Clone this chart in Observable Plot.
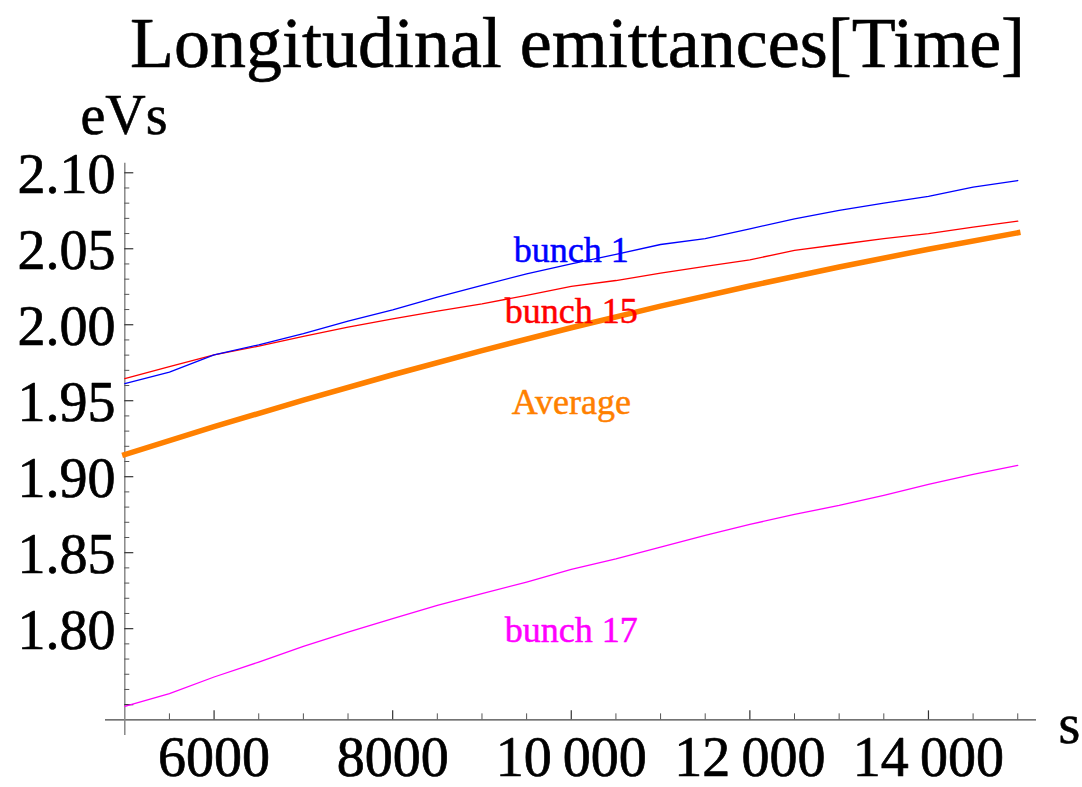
<!DOCTYPE html>
<html>
<head>
<meta charset="utf-8">
<script src="https://cdn.jsdelivr.net/npm/d3@7"></script>
<script src="https://cdn.jsdelivr.net/npm/@observablehq/plot@0.6"></script>
<style>
  html, body { margin: 0; padding: 0; background: #fff; }
  #chart { width: 1082px; height: 787px; }
</style>
</head>
<body>
<div id="chart"></div>
<script>
// ---- data ----
const times = [5000, 5500, 6000, 6500, 7000, 7500, 8000, 8500, 9000, 9500, 10000,
               10500, 11000, 11500, 12000, 12500, 13000, 13500, 14000, 14500, 15000];
const bunch1 = [1.9612, 1.9688, 1.9802, 1.9868, 1.9941, 2.0024, 2.0098, 2.0182, 2.0259, 2.0335, 2.0401,
                2.0463, 2.0528, 2.0566, 2.0631, 2.0697, 2.0752, 2.0800, 2.0844, 2.0905, 2.0949];
const bunch15 = [1.9645, 1.9724, 1.9802, 1.9859, 1.9923, 1.9984, 2.0039, 2.0090, 2.0138, 2.0193, 2.0252,
                 2.0291, 2.0340, 2.0384, 2.0427, 2.0489, 2.0528, 2.0566, 2.0599, 2.0642, 2.0682];
const bunch17 = [1.7489, 1.7572, 1.7682, 1.7780, 1.7884, 1.7978, 1.8066, 1.8153, 1.8230, 1.8307, 1.8390,
                 1.8460, 1.8537, 1.8614, 1.8686, 1.8752, 1.8811, 1.8877, 1.8949, 1.9015, 1.9074];
const avgTimes = [5000, 6000, 7000, 8000, 9000, 10000, 11000, 12000, 13000, 14000, 15000];
const average = [1.9145, 1.9329, 1.9504, 1.9671, 1.9830, 1.9980, 2.0122, 2.0255, 2.0380, 2.0497, 2.0605];

const labelNames = ["bunch 1", "bunch 15", "Average", "bunch 17"];
const labelColors = ["#0000ff", "#ff0000", "#ff8000", "#ff00ff"];
const labelY = [2.05, 2.01, 1.95, 1.80];
const labelX = 10000;

const yMajor = [1.75, 1.80, 1.85, 1.90, 1.95, 2.00, 2.05, 2.10];
const yTickLabels = ["", "1.80", "1.85", "1.90", "1.95", "2.00", "2.05", "2.10"];
const xMajor = [6000, 8000, 10000, 12000, 14000];
const xTickLabels = ["6000", "8000", "10\u2009000", "12\u2009000", "14\u2009000"];

const titleText = "Longitudinal emittances[Time]";
const yAxisLabel = "eVs";
const xAxisLabel = "s";

// ---- derived tables ----
const yMinor = d3.range(175, 211).map(v => v / 100).filter(v => !yMajor.some(m => Math.abs(m - v) < 1e-9));
const xMinor = d3.range(5500, 15001, 500).filter(v => !xMajor.includes(v));
const toRows = (xs, ys) => xs.map((t, i) => ({t, v: ys[i]}));
const labels = labelNames.map((name, i) => ({name, y: labelY[i], color: labelColors[i]}));
const yTicks = yMajor.map((y, i) => ({y, text: yTickLabels[i]}));
const xTicks = xMajor.map((x, i) => ({x, text: xTickLabels[i]}));

const xOrigin = 5000;
const yOrigin = 1.74;
const xDom = [4784, 15210];
const yDom = [1.7297, 2.1063];

const plot = Plot.plot({
  width: 1082,
  height: 787,
  marginLeft: 105,
  marginRight: 46,
  marginTop: 162.7,
  marginBottom: 52,
  x: {domain: xDom, axis: null},
  y: {domain: yDom, axis: null},
  style: {fontFamily: "'Liberation Serif', 'Times New Roman', serif", background: "#ffffff"},
  marks: [
    // axes lines
    Plot.ruleY([yOrigin], {x1: xDom[0], x2: xDom[1], stroke: "#444444", strokeWidth: 1.3}),
    Plot.ruleX([xOrigin], {y1: yDom[0], y2: yDom[1], stroke: "#888888", strokeWidth: 1.5}),
    // y ticks (inward)
    Plot.ruleY(yMajor, {x1: xOrigin, x2: xOrigin, insetRight: -9, stroke: "#333333", strokeWidth: 1.2}),
    Plot.ruleY(yMinor, {x1: xOrigin, x2: xOrigin, insetRight: -5, stroke: "#555555", strokeWidth: 1}),
    // x ticks (upward)
    Plot.ruleX(xMajor, {y1: yOrigin, y2: yOrigin, insetBottom: 9, stroke: "#333333", strokeWidth: 1.2}),
    Plot.ruleX(xMinor, {y1: yOrigin, y2: yOrigin, insetBottom: 6, stroke: "#555555", strokeWidth: 1}),
    // tick labels
    Plot.text(yTicks, {x: xOrigin, y: "y", text: "text", textAnchor: "end", lineAnchor: "middle", dx: -9.3, dy: 2, fontSize: 56, fill: "#000", stroke: "#000", strokeWidth: 0.7}),
    Plot.text(xTicks, {x: "x", y: yOrigin, text: "text", textAnchor: "middle", lineAnchor: "bottom", dy: 56, fontSize: 56, fill: "#000", stroke: "#000", strokeWidth: 0.7}),
    // series
    Plot.line(toRows(times, bunch17), {x: "t", y: "v", stroke: "#ff00ff", strokeWidth: 1.3}),
    Plot.line(toRows(times, bunch15), {x: "t", y: "v", stroke: "#ff0000", strokeWidth: 1.3}),
    Plot.line(toRows(times, bunch1), {x: "t", y: "v", stroke: "#0000ff", strokeWidth: 1.3}),
    Plot.line(toRows(avgTimes, average), {x: "t", y: "v", stroke: "#ff8000", strokeWidth: 5.5, strokeLinecap: "square"}),
    // series labels
    Plot.text(labels, {x: labelX, y: "y", text: "name", fill: "color", stroke: "color", strokeWidth: 0.5, fontSize: 36, lineAnchor: "middle", dy: 2}),
    // title and axis labels
    Plot.text([titleText], {text: d => d, frameAnchor: "top", lineAnchor: "bottom", dx: 6.5, dy: -96.7, fontSize: 72, fill: "#000", stroke: "#000", strokeWidth: 0.6}),
    Plot.text([yAxisLabel], {text: d => d, frameAnchor: "top-left", textAnchor: "start", lineAnchor: "bottom", dx: -25, dy: -29.7, fontSize: 56, fill: "#000", stroke: "#000", strokeWidth: 0.6}),
    Plot.text([xAxisLabel], {text: d => d, frameAnchor: "bottom-right", textAnchor: "start", lineAnchor: "bottom", dx: 22, dy: 7, fontSize: 56, fill: "#000", stroke: "#000", strokeWidth: 0.6})
  ]
});
document.getElementById("chart").appendChild(plot);
</script>
</body>
</html>
